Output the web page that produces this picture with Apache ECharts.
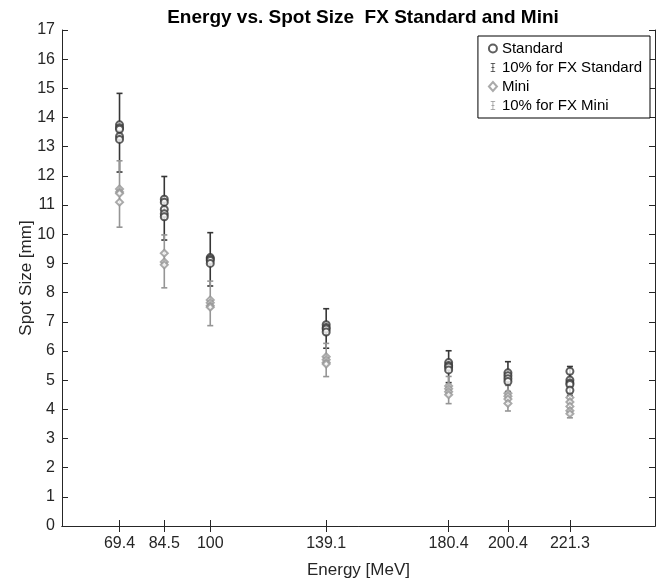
<!DOCTYPE html>
<html>
<head>
<meta charset="utf-8">
<script src="https://cdn.jsdelivr.net/npm/echarts@6/dist/echarts.min.js"></script>
<style>
  html, body { margin: 0; padding: 0; background: #fff; }
  #chart { width: 661px; height: 584px; }
</style>
</head>
<body>
<div id="chart"></div>
<script>
const chart = echarts.init(document.getElementById("chart"));

// ==========================
// DATA
// ==========================

const energies = [69.4, 84.5, 100, 139.1, 180.4, 200.4, 221.3];

// spot sizes [mm] measured at each energy
const standardSizes = [
  [13.75, 13.65, 13.6, 13.35, 13.25],
  [11.2, 11.1, 10.85, 10.7, 10.6],
  [9.2, 9.15, 9.1, 9.0],
  [6.9, 6.8, 6.75, 6.65],
  [5.6, 5.5, 5.45, 5.35],
  [5.25, 5.15, 5.05, 4.95],
  [5.3, 5.0, 4.9, 4.85, 4.65]
];

const miniSizes = [
  [11.55, 11.45, 11.4, 11.1],
  [9.35, 9.05, 8.95],
  [7.75, 7.65, 7.55, 7.5],
  [5.8, 5.7, 5.6, 5.55],
  [4.8, 4.7, 4.6, 4.5],
  [4.55, 4.45, 4.35, 4.2],
  [4.4, 4.25, 4.1, 3.95, 3.85]
];

// centre of each 10% error bar
const standardBarCenters = [13.48, 10.89, 9.14, 6.77, 5.46, 5.12, 4.97];
const miniBarCenters = [11.38, 9.07, 7.63, 5.69, 4.66, 4.38, 4.12];

const yTicks = [0, 17, 1]; // min, max, step

// ==========================
// HELPERS
// ==========================

function points(sizes) {
  const out = [];
  sizes.forEach((vals, i) => vals.forEach(v => out.push([energies[i], v])));
  return out;
}

function bars(centers) {
  return centers.map((c, i) => [energies[i], c * 0.9, c * 1.1]);
}

function errorBar(color) {
  return (params, api) => {
    const lo = api.coord([api.value(0), api.value(1)]);
    const hi = api.coord([api.value(0), api.value(2)]);
    const w = 3;
    const style = { stroke: color, lineWidth: 1.6 };
    return {
      type: "group",
      children: [
        { type: "line", shape: { x1: lo[0], y1: lo[1], x2: hi[0], y2: hi[1] }, style },
        { type: "line", shape: { x1: lo[0] - w, y1: lo[1], x2: lo[0] + w, y2: lo[1] }, style },
        { type: "line", shape: { x1: hi[0] - w, y1: hi[1], x2: hi[0] + w, y2: hi[1] }, style }
      ]
    };
  };
}

const FONT = "Liberation Sans";
const AXIS = "#262626";
const DARK = "#363636";
const LIGHT = "#959595";
const BAR_ICON = "path://M0,0h6v1h-6z M2.5,1h1v10h-1z M0,11h6v1h-6z M1,5.5h4v1h-4z";

const xBase = {
  type: "value",
  min: 50,
  max: 250,
  axisLine: { show: true, lineStyle: { color: AXIS, width: 1 } },
  axisTick: { show: true, inside: true, length: 6, customValues: energies, lineStyle: { color: AXIS } },
  splitLine: { show: false }
};

const yBase = {
  type: "value",
  min: yTicks[0],
  max: yTicks[1],
  interval: yTicks[2],
  axisLine: { show: true, lineStyle: { color: AXIS, width: 1 } },
  axisTick: { show: true, inside: true, length: 6, lineStyle: { color: AXIS } },
  splitLine: { show: false }
};

// ==========================
// CHART
// ==========================

chart.setOption({
  animation: false,
  backgroundColor: "#fff",
  title: {
    text: "Energy vs. Spot Size  FX Standard and Mini",
    left: 358,
    textAlign: "center",
    top: 3,
    textStyle: { fontFamily: FONT, fontSize: 19, fontWeight: "bold", color: "#000" }
  },
  grid: { left: 62, right: 6, top: 30, bottom: 54 },
  legend: {
    orient: "vertical",
    right: 11,
    top: 36,
    backgroundColor: "#fff",
    borderColor: "#000",
    borderWidth: 1,
    borderRadius: 0,
    padding: [5, 8, 5, 10],
    itemGap: 4,
    itemWidth: 8,
    itemHeight: 9,
    textStyle: { fontFamily: FONT, fontSize: 15, color: "#000" },
    data: [
      { name: "Standard", icon: "emptyCircle", itemStyle: { color: DARK, borderColor: DARK, borderWidth: 1.3 } },
      { name: "10% for FX Standard", icon: BAR_ICON, itemStyle: { color: DARK } },
      { name: "Mini", icon: "emptyDiamond", itemStyle: { color: LIGHT, borderColor: LIGHT, borderWidth: 1.3 } },
      { name: "10% for FX Mini", icon: BAR_ICON, itemStyle: { color: LIGHT } }
    ]
  },
  xAxis: [
    Object.assign({}, xBase, {
      position: "bottom",
      name: "Energy [MeV]",
      nameLocation: "middle",
      nameGap: 36,
      nameTextStyle: { fontFamily: FONT, fontSize: 17, color: AXIS },
      axisLabel: {
        show: true,
        customValues: energies,
        margin: 10,
        fontFamily: FONT,
        fontSize: 16,
        color: AXIS,
        formatter: v => String(v)
      }
    }),
    Object.assign({}, xBase, { position: "top", axisLabel: { show: false } })
  ],
  yAxis: [
    Object.assign({}, yBase, {
      position: "left",
      name: "Spot Size [mm]",
      nameLocation: "middle",
      nameGap: 27,
      nameMoveOverlap: false,
      nameTextStyle: { fontFamily: FONT, fontSize: 17, color: AXIS },
      axisLabel: { show: true, margin: 7, fontFamily: FONT, fontSize: 16, color: AXIS }
    }),
    Object.assign({}, yBase, { position: "right", axisLabel: { show: false } })
  ],
  series: [
    {
      name: "10% for FX Standard",
      type: "custom",
      xAxisIndex: 0,
      yAxisIndex: 0,
      z: 2,
      itemStyle: { color: DARK },
      renderItem: errorBar(DARK),
      encode: { x: 0, y: [1, 2] },
      data: bars(standardBarCenters)
    },
    {
      name: "10% for FX Mini",
      type: "custom",
      xAxisIndex: 0,
      yAxisIndex: 0,
      z: 2,
      itemStyle: { color: LIGHT },
      renderItem: errorBar(LIGHT),
      encode: { x: 0, y: [1, 2] },
      data: bars(miniBarCenters)
    },
    {
      name: "Standard",
      type: "scatter",
      z: 4,
      symbol: "emptyCircle",
      symbolSize: 7,
      itemStyle: { color: DARK, borderColor: DARK, borderWidth: 1.8 },
      data: points(standardSizes)
    },
    {
      name: "Mini",
      type: "scatter",
      z: 3,
      symbol: "emptyDiamond",
      symbolSize: 7,
      itemStyle: { color: LIGHT, borderColor: LIGHT, borderWidth: 1.8 },
      data: points(miniSizes)
    }
  ]
});
</script>
</body>
</html>
